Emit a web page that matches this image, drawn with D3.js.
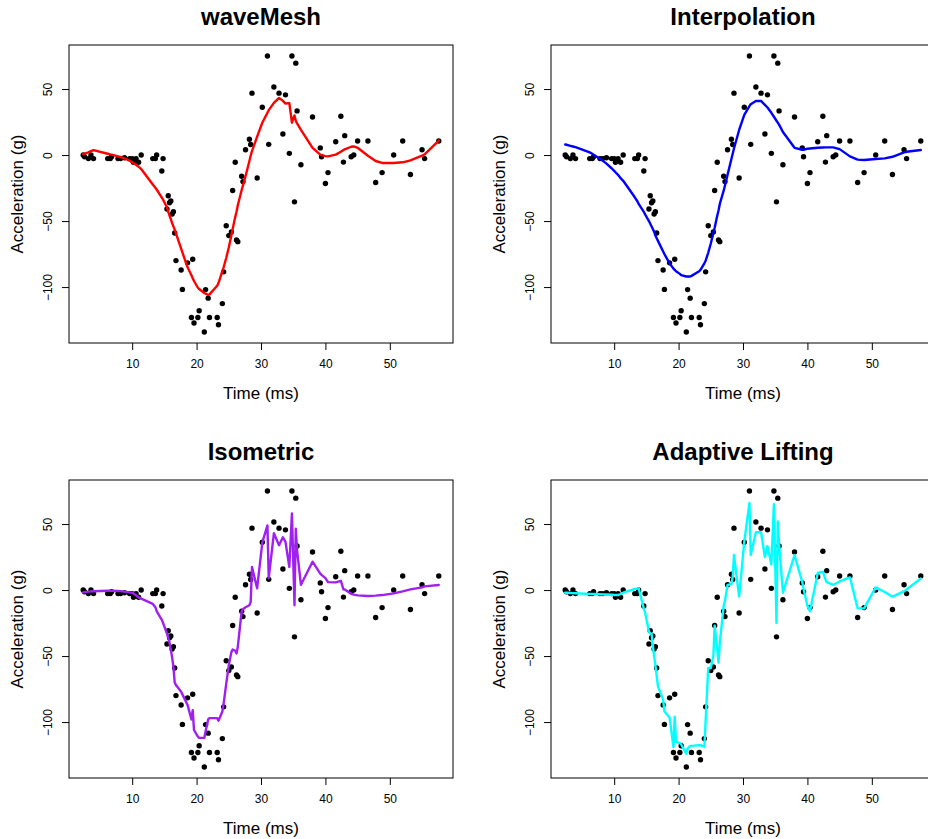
<!DOCTYPE html>
<html>
<head>
<meta charset="utf-8">
<script src="https://cdn.jsdelivr.net/npm/d3@7"></script>
<style>
  body { margin: 0; background: #fff; }
  text { font-family: "Liberation Sans", Arial, Helvetica, sans-serif; }
</style>
</head>
<body>
<div id="chart"></div>
<script>
// motorcycle crash data, repeated times averaged
const times = [2.4, 2.6, 3.2, 3.6, 4.0, 6.2, 6.6, 6.8, 7.8, 8.2,
  8.8, 9.6, 10.0, 10.2, 10.6, 11.0, 11.4, 13.2, 13.6, 13.8,
  14.6, 14.8, 15.4, 15.6, 15.8, 16.0, 16.2, 16.4, 16.6, 16.8,
  17.6, 17.8, 18.6, 19.2, 19.4, 19.6, 20.2, 20.4, 21.2, 21.4,
  21.8, 22.0, 23.2, 23.4, 24.0, 24.2, 24.6, 25.0, 25.4, 25.6,
  26.0, 26.2, 26.4, 27.0, 27.2, 27.6, 28.2, 28.4, 28.6, 29.4,
  30.2, 31.0, 31.2, 32.0, 32.8, 33.4, 33.8, 34.4, 34.8, 35.2,
  35.4, 35.6, 36.2, 38.0, 39.2, 39.4, 40.0, 40.4, 41.6, 42.4,
  42.8, 43.0, 44.0, 44.4, 45.0, 46.6, 47.8, 48.8, 50.6, 52.0,
  53.2, 55.0, 55.4, 57.6];

const accel = [0.0, -1.3, -2.7, 0.0, -2.7, -2.7, -2.7, -1.3, -2.7, -2.7,
  -2.0, -2.7, -2.7, -5.4, -2.7, -5.4, 0.0, -2.7, -2.7, 0.0,
  -12.03, -2.7, -40.83, -30.85, -36.15, -34.85, -44.67, -42.9, -59.0, -79.93,
  -87.03, -101.75, -81.65, -123.1, -78.95, -127.2, -123.1, -117.9, -134.0, -101.9,
  -108.4, -123.1, -123.1, -128.5, -112.5, -88.45, -53.5, -61.0, -58.3, -26.8,
  -5.4, -64.3, -65.6, -16.0, -20.1, 4.0, 12.0, 8.0, 46.9, -17.4,
  36.2, 75.0, 8.1, 51.55, 46.9, 16.0, 45.6, 1.3, 75.0, -35.45,
  69.6, 33.45, -7.35, 28.8, 5.4, -1.3, -21.5, -13.3, 10.05, 29.4,
  -5.35, 14.7, -1.3, 0.0, 10.7, 10.7, -20.75, -13.3, 0.0, 10.7,
  -14.7, 4.0, -2.7, 10.7];

// fitted values
const waveMesh = [0.8, 1.0, 2.0, 3.0, 3.8, 1.0, 0.5, 0.3, -1.0, -1.5,
  -2.5, -4.3, -5.5, -6.2, -7.4, -8.8, -10.6, -22.3, -24.8, -26.1,
  -32.2, -33.8, -39.5, -43.0, -45.8, -48.5, -51.5, -54.0, -56.5, -59.3,
  -70.9, -73.8, -85.0, -91.0, -93.3, -95.4, -100.5, -101.5, -104.5, -105.0,
  -106.0, -105.5, -99.0, -97.0, -88.0, -85.0, -78.0, -70.0, -61.0, -56.0,
  -47.0, -43.0, -38.0, -26.5, -23.0, -16.0, -4.5, -0.5, 3.0, 14.0,
  24.5, 32.0, 34.0, 39.5, 43.3, 41.0, 39.0, 39.3, 24.5, 30.0,
  26.0, 24.0, 19.0, 5.5, 0.3, 0.0, -0.8, -1.0, 0.3, 2.5,
  3.8, 4.3, 6.3, 6.5, 5.5, -0.5, -4.5, -6.0, -6.0, -5.5,
  -4.0, -0.5, 0.5, 11.0];

const interpolation = [8.0, 7.8, 7.0, 6.5, 6.0, 2.0, 1.0, 0.3, -2.8, -4.2,
  -6.5, -10.0, -12.0, -13.0, -15.0, -17.5, -19.5, -32.0, -35.0, -37.0,
  -43.0, -45.0, -50.0, -52.0, -54.0, -56.0, -58.0, -61.0, -63.0, -65.0,
  -73.0, -75.0, -82.0, -86.0, -87.0, -88.0, -90.0, -91.0, -92.0, -92.0,
  -92.0, -91.5, -88.0, -87.0, -82.0, -80.0, -74.0, -67.0, -59.0, -55.0,
  -46.0, -42.0, -37.0, -27.0, -23.0, -15.0, -3.0, 1.0, 5.0, 19.0,
  30.5, 37.0, 38.5, 41.0, 41.0, 38.0, 36.0, 32.0, 29.0, 26.0,
  24.5, 23.0, 17.5, 5.5, 4.0, 4.0, 4.8, 5.0, 5.5, 5.7,
  5.8, 5.8, 5.8, 5.3, 4.5, -1.0, -3.5, -3.8, -3.0, -2.5,
  -1.3, 2.0, 2.5, 3.8];

const isometric = [-1.8, -1.6, -1.2, -1.0, -0.9, -0.5, -0.5, -0.5, -0.7, -0.8,
  -1.2, -1.8, -2.0, -2.5, -4.0, -5.5, -6.5, -10.5, -13.0, -16.0,
  -22.5, -25.0, -33.0, -36.0, -40.0, -45.0, -51.0, -58.0, -70.0, -72.0,
  -77.0, -79.0, -87.0, -98.0, -91.0, -106.0, -111.0, -112.0, -112.0, -107.0,
  -98.0, -97.0, -97.0, -99.0, -92.0, -86.0, -71.0, -57.0, -47.0, -45.0,
  -46.0, -48.0, -43.0, -16.0, -14.5, -13.0, -11.5, -9.0, 17.5, 1.3,
  36.0, 49.0, 9.0, 43.0, 34.0, 40.0, 36.5, 17.5, 58.0, -11.5,
  46.5, 30.0, 4.0, 21.5, 12.5, 11.5, 9.0, 6.0, 5.8, 7.0,
  0.5, 0.5, -2.8, -3.5, -4.0, -4.5, -4.2, -3.8, -2.5, -1.0,
  0.5, 2.0, 2.8, 3.8];

const adaptiveLifting = [-2.0, -2.0, -2.2, -2.3, -2.4, -3.0, -3.0, -3.0, -3.2, -3.3,
  -3.4, -3.6, -3.7, -3.8, -3.8, -3.0, -2.0, 0.8, 1.1, 1.3,
  -14.0, -17.0, -31.6, -32.8, -33.0, -42.0, -50.0, -57.0, -65.0, -73.0,
  -83.0, -92.0, -96.5, -119.0, -96.0, -115.0, -116.0, -117.0, -124.0, -120.0,
  -118.0, -118.0, -117.5, -117.5, -118.7, -99.0, -59.0, -59.0, -50.0, -27.0,
  -45.0, -55.0, -40.0, -12.0, -8.0, 3.8, 4.5, 10.0, 26.5, -5.0,
  36.6, 66.0, 26.5, 43.8, 43.8, 25.0, 33.3, 19.4, 65.0, -25.0,
  52.0, 35.0, -2.0, 26.5, 6.0, 1.0, -12.0, -16.0, 13.0, 13.9,
  8.0, 6.0, 4.0, 5.0, 6.5, 9.6, -13.9, -13.9, 2.0, -1.5,
  -5.0, -1.0, 0.5, 8.8];

const panelTitles = ["waveMesh", "Interpolation", "Isometric", "Adaptive Lifting"];
const panelFits = [waveMesh, interpolation, isometric, adaptiveLifting];
const panelColors = ["#FF0000", "#0000FF", "#A020F0", "#00FFFF"];
const xTicks = [10, 20, 30, 40, 50];
const yTicks = [-100, -50, 0, 50];

(function() {
    const width = 928, height = 839;
    const box = { left: 69, right: 453, top: 45, bottom: 343 };
    const panelOrigins = [[0, 0], [482, 0], [0, 435], [482, 435]];

    const svg = d3.select("#chart")
        .append("svg")
        .attr("width", width)
        .attr("height", height);

    svg.append("rect")
        .attr("width", width)
        .attr("height", height)
        .attr("fill", "#fff");

    // R style axis limits: data range padded by 4% each side
    function pad(ext) {
        const d = (ext[1] - ext[0]) * 0.04;
        return [ext[0] - d, ext[1] + d];
    }

    const x = d3.scaleLinear()
        .domain(pad(d3.extent(times)))
        .range([box.left, box.right]);

    const y = d3.scaleLinear()
        .domain(pad(d3.extent(accel)))
        .range([box.bottom, box.top]);

    const points = times.map((t, i) => ({ t: t, a: accel[i] }));

    svg.append("defs")
        .append("clipPath")
        .attr("id", "plotClip")
        .append("rect")
        .attr("x", box.left)
        .attr("y", box.top)
        .attr("width", box.right - box.left)
        .attr("height", box.bottom - box.top);

    panelTitles.forEach((title, p) => {
        const g = svg.append("g")
            .attr("transform", `translate(${panelOrigins[p][0]},${panelOrigins[p][1]})`);

        // axes
        g.append("g")
            .attr("transform", `translate(0,${box.bottom})`)
            .call(d3.axisBottom(x).tickValues(xTicks).tickSize(7).tickPadding(9).tickSizeOuter(0))
            .call(a => a.select(".domain").remove())
            .call(a => a.selectAll("text").attr("font-size", 12).attr("fill", "#000")
                .attr("font-family", "Liberation Sans, Arial, sans-serif"));

        const yAxis = g.append("g")
            .attr("transform", `translate(${box.left},0)`)
            .call(d3.axisLeft(y).tickValues(yTicks).tickSize(7).tickFormat(d3.format("d")).tickSizeOuter(0))
            .call(a => a.select(".domain").remove());

        yAxis.selectAll(".tick text")
            .attr("font-size", 12)
            .attr("fill", "#000")
            .attr("font-family", "Liberation Sans, Arial, sans-serif")
            .attr("text-anchor", "middle")
            .attr("x", 0)
            .attr("dy", 0)
            .attr("transform", "translate(-17,0) rotate(-90)")
            .text(d => d < 0 ? "\u2212" + Math.abs(d) : d);

        g.selectAll(".tick line").attr("stroke", "#000");

        // plot box
        g.append("rect")
            .attr("x", box.left)
            .attr("y", box.top)
            .attr("width", box.right - box.left)
            .attr("height", box.bottom - box.top)
            .attr("fill", "none")
            .attr("stroke", "#000")
            .attr("stroke-width", 1);

        // points
        g.append("g")
            .selectAll("circle")
            .data(points)
            .join("circle")
            .attr("cx", d => x(d.t))
            .attr("cy", d => y(d.a))
            .attr("r", 2.7)
            .attr("fill", "#000");

        // fitted line
        const line = d3.line()
            .x((d, i) => x(times[i]))
            .y(d => y(d));

        g.append("path")
            .datum(panelFits[p])
            .attr("clip-path", "url(#plotClip)")
            .attr("d", line)
            .attr("fill", "none")
            .attr("stroke", panelColors[p])
            .attr("stroke-width", 2.4)
            .attr("stroke-linejoin", "round")
            .attr("stroke-linecap", "round");

        // titles
        g.append("text")
            .attr("x", (box.left + box.right) / 2)
            .attr("y", 25)
            .attr("text-anchor", "middle")
            .attr("font-size", 24)
            .attr("font-weight", "bold")
            .text(title);

        g.append("text")
            .attr("x", (box.left + box.right) / 2)
            .attr("y", 399)
            .attr("text-anchor", "middle")
            .attr("font-size", 17)
            .text("Time (ms)");

        g.append("text")
            .attr("transform", `translate(23,${(box.top + box.bottom) / 2}) rotate(-90)`)
            .attr("text-anchor", "middle")
            .attr("font-size", 17)
            .text("Acceleration (g)");
    });
})();
</script>
</body>
</html>
